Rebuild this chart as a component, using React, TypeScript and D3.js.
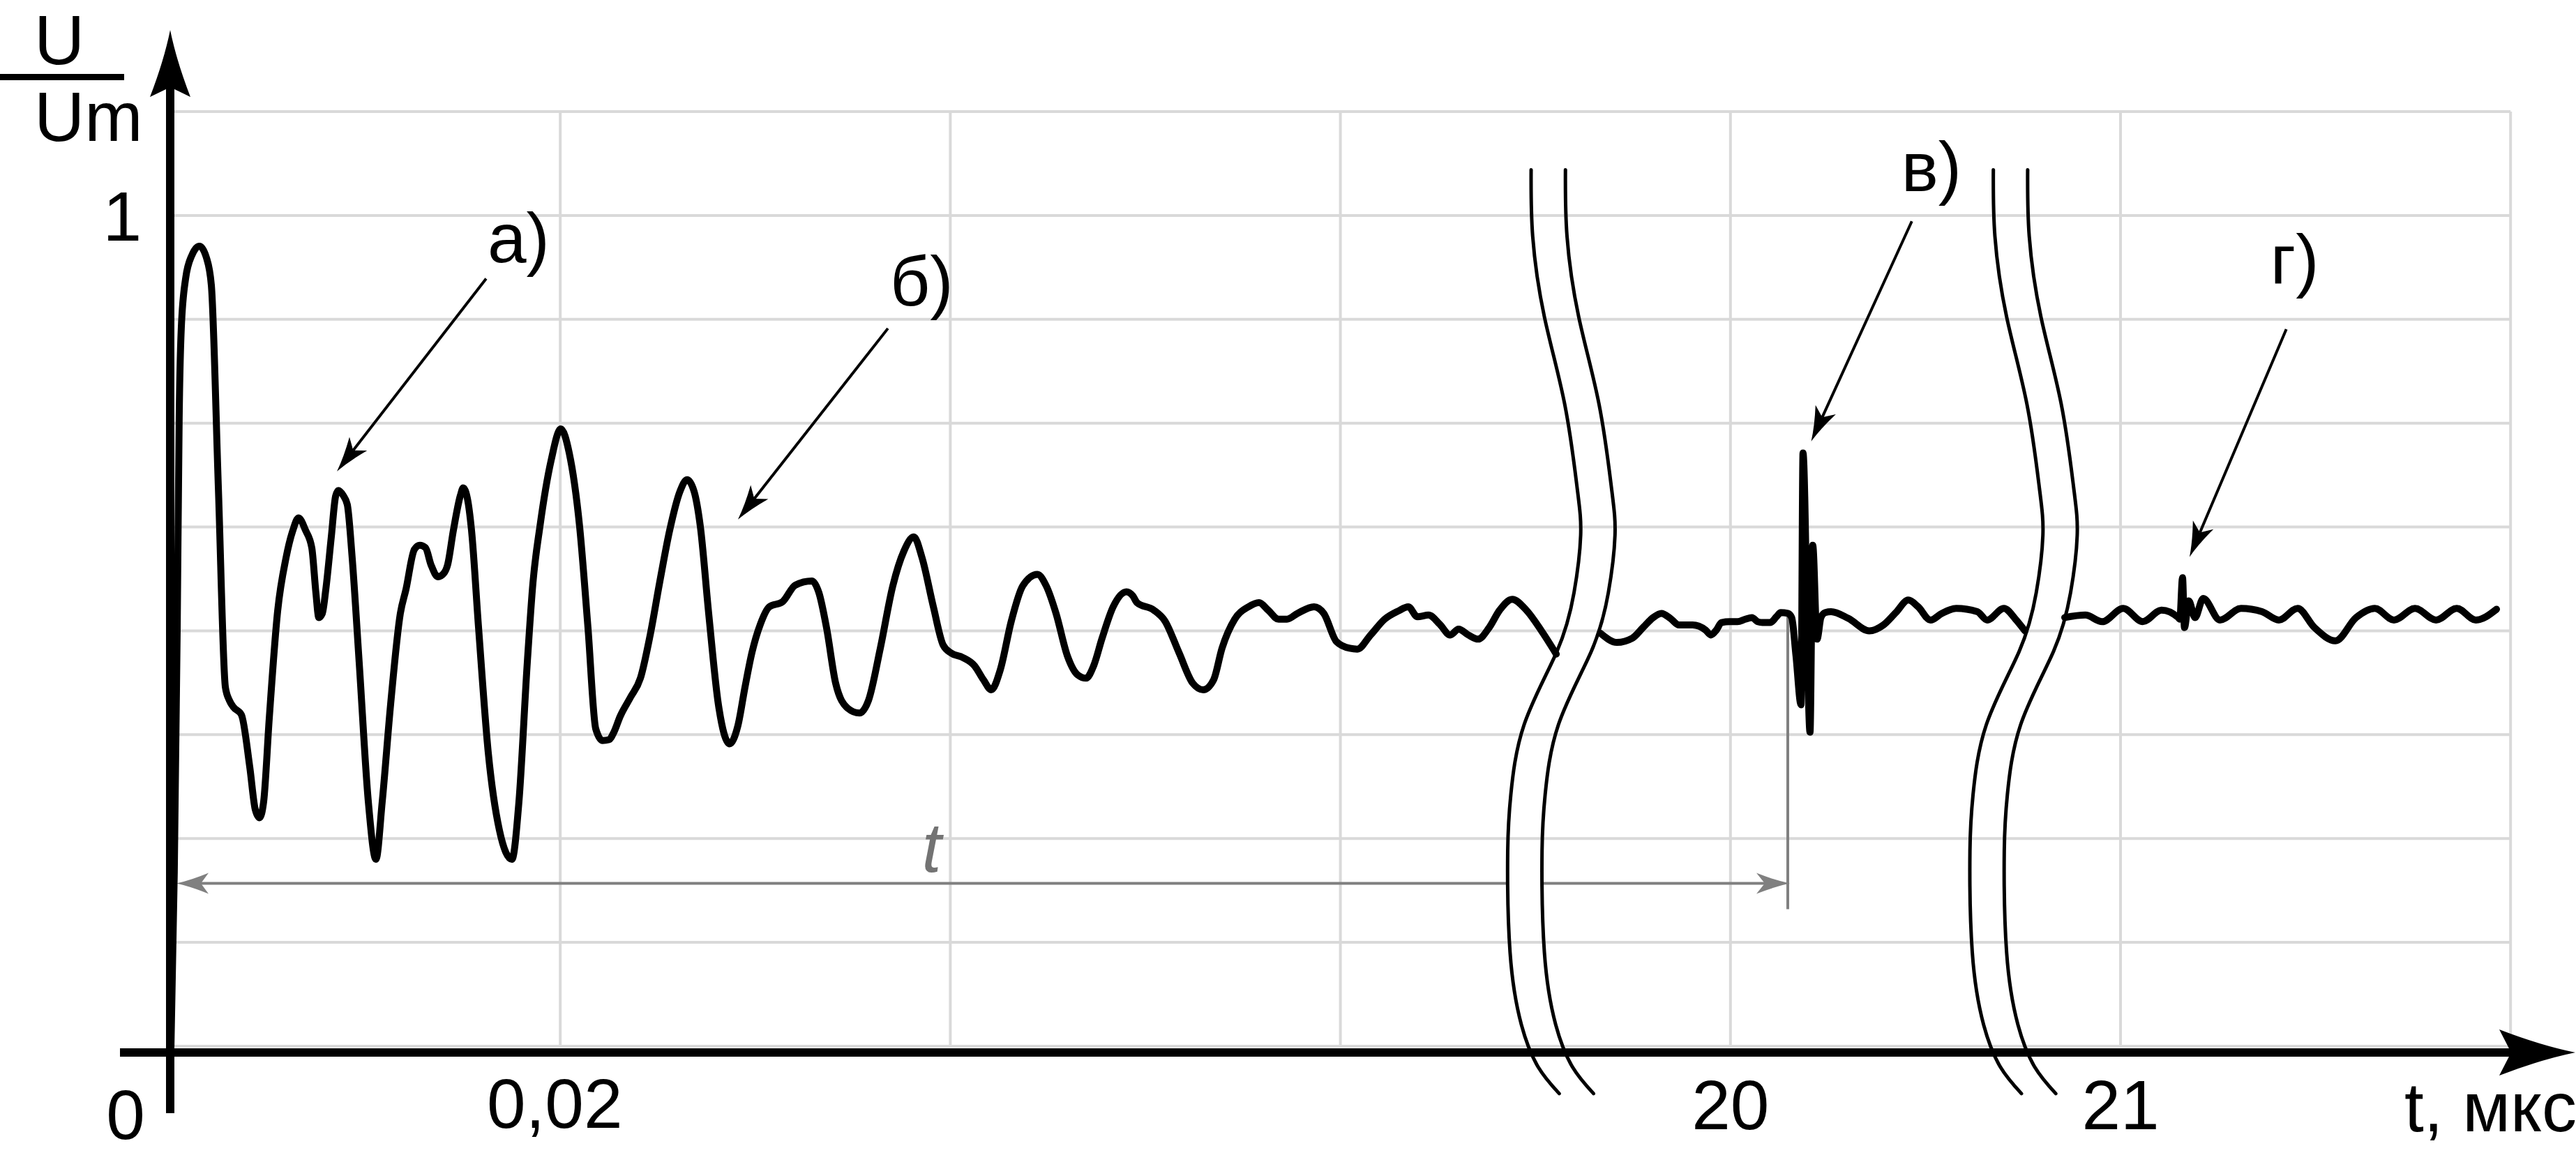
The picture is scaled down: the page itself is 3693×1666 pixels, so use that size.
import * as d3 from 'd3';

// U/Um over time. The first part of the trace is in ns (0,02 µs = 20 ns),
// after the break the axis is in µs.
type Pt = [number, number];

const segA: Pt[] = [
  [0.04, 0.0], [0.21, 0.21], [0.36, 0.504], [0.46, 0.756], [0.57, 0.865], [0.79, 0.924], [1.11, 0.952],
  [1.5, 0.963], [1.86, 0.949], [2.11, 0.916], [2.47, 0.672], [2.83, 0.432], [3.04, 0.416], [3.25, 0.408],
  [3.65, 0.399], [4.08, 0.336], [4.36, 0.285], [4.58, 0.275], [4.79, 0.294], [5.08, 0.395], [5.51, 0.524],
  [5.94, 0.588], [6.29, 0.621], [6.58, 0.636], [6.94, 0.621], [7.26, 0.6], [7.47, 0.546], [7.62, 0.516],
  [7.8, 0.521], [7.98, 0.55], [8.26, 0.613], [8.48, 0.662], [8.62, 0.669], [8.87, 0.663], [9.08, 0.652],
  [9.33, 0.588], [9.69, 0.462], [10.16, 0.294], [10.55, 0.225], [10.87, 0.294], [11.3, 0.411], [11.8, 0.521],
  [12.09, 0.55], [12.52, 0.598], [12.8, 0.603], [13.09, 0.6], [13.38, 0.579], [13.73, 0.565], [14.02, 0.569],
  [14.23, 0.58], [14.52, 0.621], [14.88, 0.663], [15.02, 0.672], [15.24, 0.659], [15.45, 0.621], [15.81, 0.504],
  [16.31, 0.353], [16.88, 0.26], [17.52, 0.225], [17.88, 0.294], [18.31, 0.462], [18.6, 0.558], [18.96, 0.626],
  [19.53, 0.705], [20.03, 0.743], [20.46, 0.714], [20.99, 0.626], [21.42, 0.504], [21.82, 0.382], [22.17, 0.368],
  [22.5, 0.369], [22.75, 0.378], [23.07, 0.397], [23.6, 0.42], [24.11, 0.443], [24.61, 0.495], [25.11, 0.56],
  [25.61, 0.621], [26.14, 0.668], [26.5, 0.682], [26.86, 0.668], [27.18, 0.626], [27.61, 0.521], [28.11, 0.411],
  [28.68, 0.364], [29.11, 0.386], [29.47, 0.432], [29.83, 0.474], [30.26, 0.508], [30.72, 0.529], [31.4, 0.535],
  [32.05, 0.555], [32.9, 0.56], [33.26, 0.546], [33.65, 0.504], [34.12, 0.437], [34.73, 0.407], [35.34, 0.401],
  [35.8, 0.416], [36.41, 0.479], [37.05, 0.554], [37.62, 0.596], [38.13, 0.613], [38.55, 0.588], [39.13, 0.529],
  [39.63, 0.483], [40.06, 0.473], [40.63, 0.468], [41.24, 0.458], [41.7, 0.441], [42.1, 0.429], [42.56, 0.453],
  [43.13, 0.512], [43.71, 0.554], [44.46, 0.568], [44.92, 0.554], [45.42, 0.521], [46.0, 0.47], [46.53, 0.447],
  [46.96, 0.443], [47.35, 0.458], [47.78, 0.491], [48.35, 0.529], [49.03, 0.547], [49.36, 0.542], [49.57, 0.534],
  [50.43, 0.525], [51.0, 0.512], [51.72, 0.474], [52.43, 0.437], [52.97, 0.429], [53.5, 0.441], [53.93, 0.479],
  [54.58, 0.514], [55.29, 0.529], [55.83, 0.534], [56.29, 0.525], [56.83, 0.514], [57.26, 0.514], [57.8, 0.521],
  [58.65, 0.529], [59.15, 0.521], [59.8, 0.487], [60.48, 0.479], [60.87, 0.478], [61.55, 0.495], [62.27, 0.514],
  [62.98, 0.524], [63.48, 0.529], [63.95, 0.517], [64.52, 0.519], [65.09, 0.508], [65.63, 0.495], [66.06, 0.502],
  [66.56, 0.495], [67.06, 0.49], [67.63, 0.504], [68.17, 0.525], [68.81, 0.538], [69.53, 0.525], [70.31, 0.5],
  [71.07, 0.472],
];

// µs, between the two breaks (spike "в)")
const segB: Pt[] = [
  [19.667, 0.497], [19.709, 0.486], [19.748, 0.491], [19.776, 0.504], [19.802, 0.516], [19.823, 0.521],
  [19.846, 0.515], [19.868, 0.507], [19.903, 0.507], [19.936, 0.501], [19.95, 0.495], [19.964, 0.501],
  [19.977, 0.51], [19.998, 0.511], [20.018, 0.511], [20.038, 0.514], [20.055, 0.516], [20.07, 0.511],
  [20.082, 0.51], [20.102, 0.51], [20.118, 0.517], [20.129, 0.522], [20.147, 0.521], [20.157, 0.516],
  [20.168, 0.47], [20.181, 0.411], [20.186, 0.714], [20.204, 0.378], [20.211, 0.603], [20.222, 0.49],
  [20.232, 0.516], [20.243, 0.522], [20.258, 0.523], [20.302, 0.515], [20.356, 0.5], [20.392, 0.507],
  [20.424, 0.522], [20.456, 0.537], [20.481, 0.529], [20.513, 0.513], [20.542, 0.521], [20.579, 0.527],
  [20.633, 0.523], [20.658, 0.513], [20.701, 0.527], [20.731, 0.514], [20.755, 0.5],
];

// µs, after the second break (spike "г)")
const segC: Pt[] = [
  [20.857, 0.516], [20.91, 0.519], [20.953, 0.511], [21.007, 0.527], [21.057, 0.511], [21.105, 0.525],
  [21.148, 0.516], [21.152, 0.514], [21.159, 0.564], [21.164, 0.504], [21.175, 0.536], [21.191, 0.516],
  [21.212, 0.539], [21.255, 0.513], [21.309, 0.527], [21.363, 0.523], [21.406, 0.513], [21.454, 0.527],
  [21.497, 0.504], [21.551, 0.488], [21.604, 0.516], [21.652, 0.527], [21.701, 0.513], [21.755, 0.527],
  [21.809, 0.513], [21.862, 0.527], [21.911, 0.513], [21.964, 0.526],
];

const fastTicks = [{ v: 0, label: '0' }, { v: 20, label: '0,02' }];
const slowTicks = [{ v: 20, label: '20' }, { v: 21, label: '21' }];
const yTicks = [{ v: 1, label: '1' }];

// break symbol: [offset in grid columns, U/Um]
const breakShape: Pt[] = [
  [0, 1.055], [0.004, 0.975], [0.034, 0.878], [0.086, 0.773], [0.118, 0.672], [0.127, 0.615],
  [0.11, 0.546], [0.066, 0.475], [-0.018, 0.387], [-0.052, 0.303], [-0.06, 0.235], [-0.054, 0.113],
  [-0.025, 0.026], [0.018, -0.025], [0.072, -0.057],
];
const breakCols = [3.489, 4.674];
const breakGap = 0.088;

// labelled arrows: 'fast' ones in ns, 'slow' ones in µs
const notes = [
  { text: 'а)', axis: 'fast', label: [16.27, 0.944], tail: [16.2, 0.924], tip: [8.55, 0.692] },
  { text: 'б)', axis: 'fast', label: [36.91, 0.892], tail: [36.8, 0.864], tip: [29.11, 0.634] },
  { text: 'в)', axis: 'slow', label: [20.438, 1.029], tail: [20.465, 0.993], tip: [20.207, 0.728] },
  { text: 'г)', axis: 'slow', label: [21.384, 0.918], tail: [21.425, 0.863], tip: [21.177, 0.589] },
];

// interval t from 0 to the start of spike в)
const tMarkNs = 0;
const tMarkUs = 20.147;
const tLineU = 0.196;
const tLabel = [38.55, 0.21];

const W = 3693;
const H = 1666;
const X0 = 244;
const COL = 559.2;
const FONT = '"Liberation Sans", Arial, sans-serif';
const GRID = '#d9d9d9';
const GREY = '#808080';

const yScale = d3.scaleLinear().domain([0, 1.125]).range([1500, 160]);
const xFast = d3.scaleLinear().domain([0, 20]).range([X0, X0 + COL]);
const xSlow = d3.scaleLinear().domain([20, 22]).range([X0 + 4 * COL, X0 + 6 * COL]);
const colScale = d3.scaleLinear().domain([0, 6]).range([X0, X0 + 6 * COL]);

const AXIS_Y = yScale(0) + 9;
const X_AXIS_START = 172;
const X_TIP = 3692;
const Y_AXIS_BOTTOM = 1596;
const Y_TIP = 43;

function breakDx(u: number) {
  for (let i = 0; i < breakShape.length - 1; i++) {
    const [d0, u0] = breakShape[i];
    const [d1, u1] = breakShape[i + 1];
    if (u <= u0 && u >= u1) return d0 + ((d1 - d0) * (u - u0)) / (u1 - u0);
  }
  return 0;
}

// arrowhead with concave flanks, tip at (tx,ty), pointing along ang
function head(tx: number, ty: number, ang: number, len: number, half: number, notch: number) {
  const c = Math.cos(ang);
  const s = Math.sin(ang);
  const p = (a: number, b: number) => `${tx + a * c - b * s},${ty + a * s + b * c}`;
  return `M${p(0, 0)} Q${p(-len * 0.45, -half * 0.3)} ${p(-len, -half)} L${p(-notch, 0)} L${p(-len, half)} Q${p(-len * 0.45, half * 0.3)} ${p(0, 0)} Z`;
}

export default function App() {
  const lineFast = d3.line<Pt>().x(d => xFast(d[0])).y(d => yScale(d[1])).curve(d3.curveMonotoneX);
  const lineSlow = d3.line<Pt>().x(d => xSlow(d[0])).y(d => yScale(d[1])).curve(d3.curveMonotoneX);

  const hGrid = d3.range(0, 10).map(k => yScale(k * 0.125));
  const vGrid = d3.range(1, 7).map(k => colScale(k));

  const breakLine = (col: number) =>
    d3.line<Pt>().x(d => colScale(col + d[0])).y(d => yScale(d[1])).curve(d3.curveNatural)(breakShape) || '';

  const tY = yScale(tLineU);
  const tLeft = xFast(tMarkNs);
  const tRight = xSlow(tMarkUs);
  const cutL = colScale(breakCols[0] + breakDx(tLineU));
  const cutR = colScale(breakCols[0] + breakGap + breakDx(tLineU));

  return (
    <svg width={W} height={H} style={{ position: 'absolute', left: 0, top: 0, background: '#fff' }}>
      {/* grid */}
      <g stroke={GRID} strokeWidth={4}>
        {hGrid.map((y, i) => (
          <line key={'h' + i} x1={X0 + 6} x2={colScale(6)} y1={y} y2={y} />
        ))}
        {vGrid.map((x, i) => (
          <line key={'v' + i} x1={x} x2={x} y1={yScale(1.125)} y2={yScale(0)} />
        ))}
      </g>

      {/* interval t */}
      <g stroke={GREY} strokeWidth={4} fill="none">
        <line x1={tLeft + 30} x2={cutL} y1={tY} y2={tY} />
        <line x1={cutR} x2={tRight - 30} y1={tY} y2={tY} />
        <line x1={tRight} x2={tRight} y1={yScale(0.521)} y2={yScale(0.165)} />
      </g>
      <path d={head(tLeft + 9, tY, Math.PI, 46, 15, 35)} fill={GREY} />
      <path d={head(tRight + 3, tY, 0, 48, 15, 36)} fill={GREY} />
      <text
        x={xFast(tLabel[0])}
        y={yScale(tLabel[1])}
        fontFamily={FONT}
        fontSize={100}
        fontStyle="italic"
        fill="#737373"
      >
        t
      </text>

      {/* trace */}
      <g fill="none" stroke="#000" strokeWidth={10} strokeLinejoin="round" strokeLinecap="round">
        <path d={lineFast(segA) || ''} />
        <path d={lineSlow(segB) || ''} />
        <path d={lineSlow(segC) || ''} />
      </g>

      {/* axes */}
      <line x1={X0} x2={X0} y1={Y_AXIS_BOTTOM} y2={Y_TIP + 70} stroke="#000" strokeWidth={12} />
      <path d={head(X0, Y_TIP, -Math.PI / 2, 96, 29, 82)} fill="#000" />
      <line x1={X_AXIS_START} x2={X_TIP - 80} y1={AXIS_Y} y2={AXIS_Y} stroke="#000" strokeWidth={12} />
      <path d={head(X_TIP, AXIS_Y, 0, 109, 33, 92)} fill="#000" />

      {/* axis breaks */}
      <g fill="none" stroke="#000" strokeWidth={5} strokeLinecap="round">
        {breakCols.map(c => (
          <g key={c}>
            <path d={breakLine(c)} />
            <path d={breakLine(c + breakGap)} />
          </g>
        ))}
      </g>

      {/* labels */}
      <g fontFamily={FONT} fontSize={100} fill="#000">
        <text x={49} y={92}>U</text>
        <text x={49} y={202}>Um</text>
        {yTicks.map(t => (
          <text key={t.label} x={X0 - 41} y={yScale(t.v) + 36} textAnchor="end">
            {t.label}
          </text>
        ))}
        {fastTicks.map(t => (
          <text
            key={t.label}
            x={xFast(t.v) + (t.v === 0 ? -64 : -8)}
            y={t.v === 0 ? 1633 : 1617}
            textAnchor="middle"
          >
            {t.label}
          </text>
        ))}
        {slowTicks.map(t => (
          <text key={t.label} x={xSlow(t.v)} y={1619} textAnchor="middle">
            {t.label}
          </text>
        ))}
        <text x={X_TIP + 2} y={1622} textAnchor="end">t, мкс</text>
      </g>
      <rect x={0} y={106} width={178} height={9} fill="#000" />

      {/* annotations */}
      {notes.map(n => {
        const xs = n.axis === 'fast' ? xFast : xSlow;
        const x1 = xs(n.tail[0]);
        const y1 = yScale(n.tail[1]);
        const x2 = xs(n.tip[0]);
        const y2 = yScale(n.tip[1]);
        const ang = Math.atan2(y2 - y1, x2 - x1);
        return (
          <g key={n.text}>
            <line
              x1={x1}
              y1={y1}
              x2={x2 - Math.cos(ang) * 38}
              y2={y2 - Math.sin(ang) * 38}
              stroke="#000"
              strokeWidth={4}
            />
            <path d={head(x2, y2, ang, 50, 16, 38)} fill="#000" />
            <text x={xs(n.label[0])} y={yScale(n.label[1])} fontFamily={FONT} fontSize={100}>
              {n.text}
            </text>
          </g>
        );
      })}
    </svg>
  );
}
